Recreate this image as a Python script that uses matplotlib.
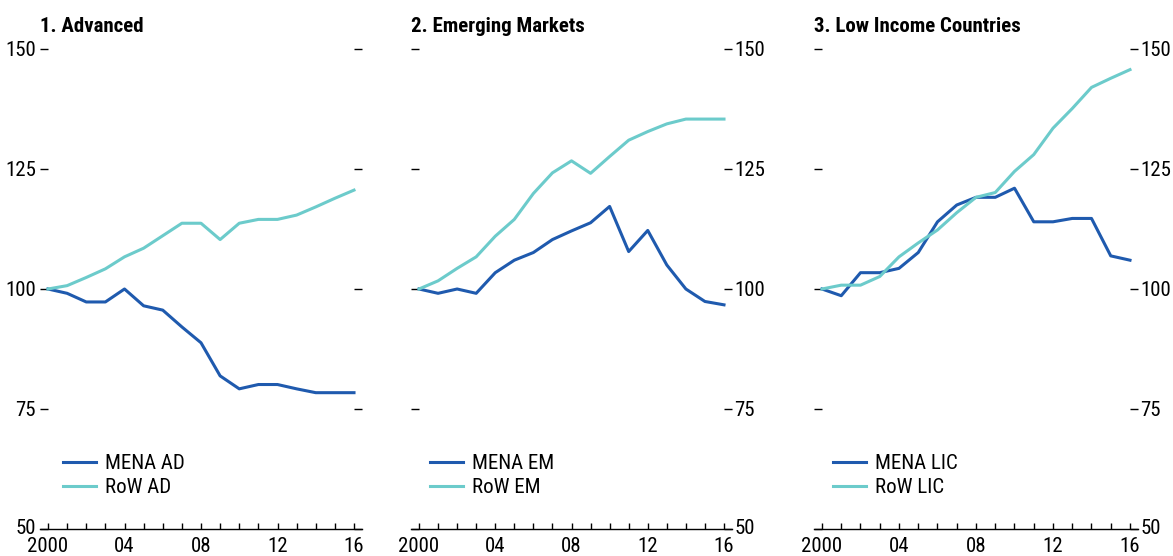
import matplotlib
matplotlib.use("Agg")
import matplotlib.pyplot as plt
from matplotlib import font_manager
from matplotlib.transforms import ScaledTranslation

years = list(range(2000, 2017))

mena_ad = [100, 99.1, 97.3, 97.3, 100, 96.5, 95.6, 92.1, 88.8, 81.9, 79.2, 80.1, 80.1, 79.2, 78.4, 78.4, 78.4]
row_ad = [100, 100.7, 102.4, 104.2, 106.7, 108.5, 111.1, 113.7, 113.7, 110.3, 113.7, 114.5, 114.5, 115.4, 117.1, 118.9, 120.6]

mena_em = [100, 99.1, 100, 99.1, 103.4, 106.0, 107.6, 110.3, 112.1, 113.8, 117.2, 107.8, 112.2, 105.0, 100, 97.4, 96.7]
row_em = [100, 101.7, 104.3, 106.7, 111.0, 114.5, 119.9, 124.2, 126.7, 124.1, 127.6, 131.0, 132.8, 134.4, 135.4, 135.4, 135.4]

mena_lic = [100, 98.6, 103.4, 103.4, 104.3, 107.6, 114.0, 117.5, 119.1, 119.1, 121.0, 114.0, 114.0, 114.7, 114.7, 106.9, 106.0]
row_lic = [100, 100.8, 100.8, 102.6, 106.7, 109.6, 112.3, 115.9, 119.1, 120.1, 124.5, 128.0, 133.5, 137.6, 142.0, 143.9, 145.7]

titles = ["1. Advanced", "2. Emerging Markets", "3. Low Income Countries"]
mena_labels = ["MENA AD", "MENA EM", "MENA LIC"]
row_labels = ["RoW AD", "RoW EM", "RoW LIC"]
yticks = [50, 75, 100, 125, 150]

# condensed sans if available
installed = {f.name for f in font_manager.fontManager.ttflist}
fam = [f for f in ["Liberation Sans Narrow", "Roboto Condensed", "Liberation Sans"] if f in installed]
plt.rcParams["font.family"] = fam + ["DejaVu Sans"]

dark = "#1f5aae"
light = "#6ccbcb"

fig = plt.figure(figsize=(11.73, 5.56), dpi=100)
W, H = 1173, 556
boxes = [(40, 362), (411, 732), (814, 1138)]
top_px, bot_px = 49, 529

series = [(mena_ad, row_ad), (mena_em, row_em), (mena_lic, row_lic)]

for i, (x0, x1) in enumerate(boxes):
    ax = fig.add_axes([x0 / W, (H - bot_px) / H, (x1 - x0) / W, (bot_px - top_px) / H])
    mena, row = series[i]
    ax.plot(years, mena, color=dark, lw=2.2, label=mena_labels[i])
    ax.plot(years, row, color=light, lw=2.2, label=row_labels[i])

    # data 2000..2016 sits 8px inside each side of the box
    span = x1 - x0
    ax.set_xlim(2000 - 8 / (span - 16) * 16, 2016 + 8 / (span - 16) * 16)
    ax.set_ylim(50, 150)

    for s in ["top", "left", "right"]:
        ax.spines[s].set_visible(False)
    ax.spines["bottom"].set_linewidth(1.0)

    ax.set_xticks(years)
    ax.set_xticklabels(["2000" if y == 2000 else (str(y)[2:] if (y - 2000) % 4 == 0 else "") for y in years])
    ax.tick_params(axis="x", direction="in", length=4.5, width=1, pad=5.5, labelsize=15)

    ax.set_yticks(yticks)
    ax.tick_params(axis="y", direction="in", length=6, width=1, pad=3 if i == 0 else 1.5,
                   labelsize=15, left=True, right=True,
                   labelleft=(i == 0), labelright=(i != 0))
    # lift the bottom "50" a touch so it clears the year labels
    for lab in ax.get_yticklabels(which="both"):
        pass
    for t in [ax.yaxis.get_major_ticks()[0]]:
        for lab in (t.label1, t.label2):
            lab.set_transform(lab.get_transform() + ScaledTranslation(0, 1.5 / 72, fig.dpi_scale_trans))

    ax.set_title(titles[i], loc="left", fontsize=15, fontweight="bold", pad=12)

    ax.legend(loc="lower left", bbox_to_anchor=(0.012 if i == 0 else 0.0, 0.028), frameon=False, fontsize=15,
              handlelength=1.6, handletextpad=0.45, labelspacing=0.22, borderaxespad=0.5)

fig.savefig("out.png", dpi=100)
